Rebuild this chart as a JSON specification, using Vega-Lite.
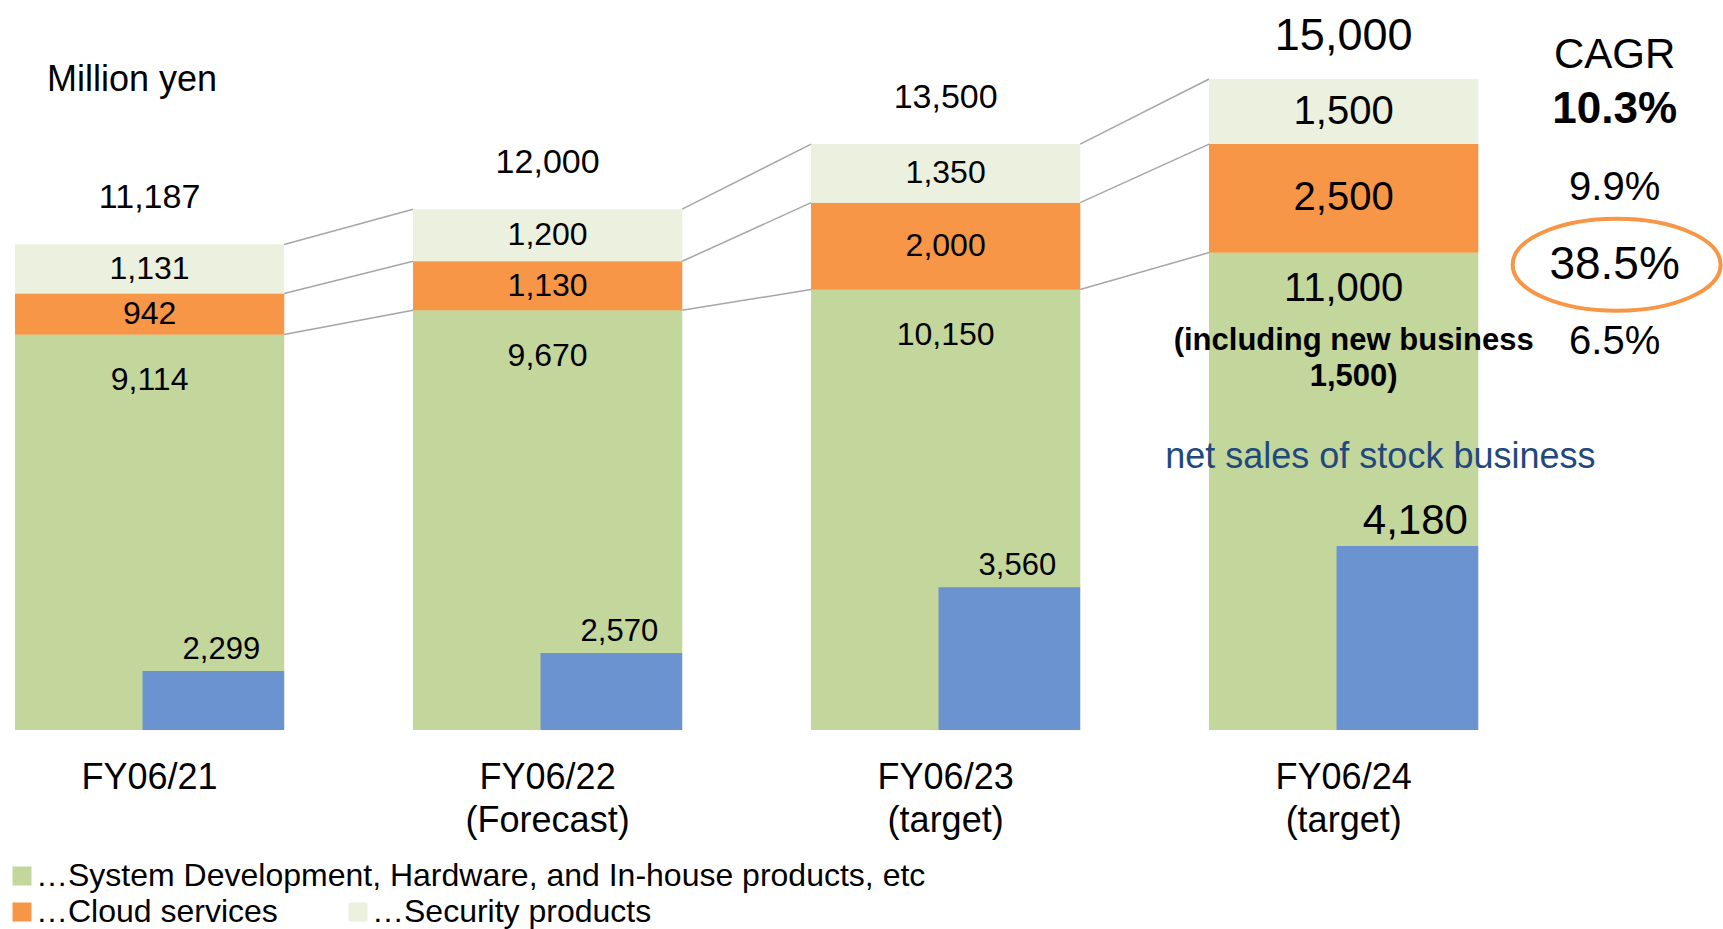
{
  "$schema": "https://vega.github.io/schema/vega-lite/v6.json",
  "width": 1723,
  "height": 730,
  "autosize": {"type": "none"},
  "padding": {"left": 0, "top": 0, "right": 0, "bottom": 199},
  "background": "white",
  "config": {"view": {"stroke": null}, "font": "Liberation Sans", "text": {"font": "Liberation Sans", "color": "black"}},
  "title": {"text": "Million yen", "anchor": "start", "frame": "group", "orient": "top", "offset": 0, "dx": 47, "dy": 116, "baseline": "middle", "fontSize": 36, "fontWeight": "normal", "font": "Liberation Sans", "color": "black"},
  "datasets": {
    "segments": [
      {"year": "FY06/21", "category": "System Development, Hardware, and In-house products, etc", "rank": 1, "value": 9114},
      {"year": "FY06/21", "category": "Cloud services", "rank": 2, "value": 942},
      {"year": "FY06/21", "category": "Security products", "rank": 3, "value": 1131},
      {"year": "FY06/22", "category": "System Development, Hardware, and In-house products, etc", "rank": 1, "value": 9670},
      {"year": "FY06/22", "category": "Cloud services", "rank": 2, "value": 1130},
      {"year": "FY06/22", "category": "Security products", "rank": 3, "value": 1200},
      {"year": "FY06/23", "category": "System Development, Hardware, and In-house products, etc", "rank": 1, "value": 10150},
      {"year": "FY06/23", "category": "Cloud services", "rank": 2, "value": 2000},
      {"year": "FY06/23", "category": "Security products", "rank": 3, "value": 1350},
      {"year": "FY06/24", "category": "System Development, Hardware, and In-house products, etc", "rank": 1, "value": 11000},
      {"year": "FY06/24", "category": "Cloud services", "rank": 2, "value": 2500},
      {"year": "FY06/24", "category": "Security products", "rank": 3, "value": 1500}
    ],
    "stock": [
      {"year": "FY06/21", "value": 2299},
      {"year": "FY06/22", "value": 2570},
      {"year": "FY06/23", "value": 3560},
      {"year": "FY06/24", "value": 4180}
    ],
    "cagr": [
      {"row": "header", "label": "CAGR"},
      {"row": "total", "label": "10.3%"},
      {"row": "security", "label": "9.9%"},
      {"row": "cloud", "label": "38.5%"},
      {"row": "system", "label": "6.5%"}
    ]
  },
  "encoding": {
    "x": {
      "field": "year", "type": "nominal",
      "sort": ["FY06/21", "FY06/22", "FY06/23", "FY06/24"],
      "scale": {"paddingInner": 0.324, "paddingOuter": 0.3265, "align": 0.058},
      "axis": {
        "title": null, "domain": false, "ticks": false, "grid": false,
        "labelFontSize": 36, "labelFont": "Liberation Sans", "labelColor": "black",
        "labelPadding": 30, "labelLineHeight": 43, "labelAngle": 0, "labelLimit": 400,
        "labelExpr": "datum.value == 'FY06/22' ? ['FY06/22', '(Forecast)'] : (datum.value == 'FY06/21' ? 'FY06/21' : [datum.value, '(target)'])"
      }
    }
  },
  "resolve": {"scale": {"y": "independent"}, "legend": {"color": "independent"}},
  "layer": [
    {
      "data": {"name": "segments"},
      "mark": {"type": "bar"},
      "encoding": {
        "y": {"field": "value", "type": "quantitative", "stack": "zero", "scale": {"domain": [0, 16820], "nice": false}, "axis": null},
        "color": {
          "field": "category", "type": "nominal",
          "scale": {"domain": ["System Development, Hardware, and In-house products, etc", "Cloud services", "Security products"], "range": ["#C3D69B", "#F79646", "#EBF1DE"]},
          "legend": {"orient": "none", "legendX": 6, "legendY": 896, "direction": "horizontal", "title": null, "values": ["Cloud services", "Security products"], "labelFontSize": 32, "labelFont": "Liberation Sans", "labelColor": "black", "labelExpr": "'…' + datum.label", "labelLimit": 2000, "symbolType": "square", "symbolSize": 361, "symbolStrokeWidth": 0, "labelOffset": -2, "columnPadding": 64, "padding": 0}
        },
        "order": {"field": "rank", "type": "quantitative"}
      }
    },
    {
      "data": {"name": "segments"},
      "layer": [
        {
          "transform": [
            {"stack": "value", "groupby": ["year"], "sort": [{"field": "rank", "order": "ascending"}], "as": ["s0", "s1"]},
            {"window": [{"op": "lead", "field": "s1", "as": "next_s1"}, {"op": "lead", "field": "year", "as": "next_year"}], "groupby": ["category"], "sort": [{"field": "year", "order": "ascending"}]},
            {"filter": "datum.next_year != null"}
          ],
          "mark": {"type": "rule", "color": "#A6A6A6", "strokeWidth": 1.5},
          "encoding": {
            "x": {
              "field": "year", "type": "nominal", "bandPosition": 1,
              "sort": ["FY06/21", "FY06/22", "FY06/23", "FY06/24"],
              "axis": {
                "title": null, "domain": false, "ticks": false, "grid": false,
                "labelFontSize": 36, "labelFont": "Liberation Sans", "labelColor": "black",
                "labelPadding": 30, "labelLineHeight": 43, "labelAngle": 0, "labelLimit": 400,
                "labelExpr": "datum.value == 'FY06/22' ? ['FY06/22', '(Forecast)'] : (datum.value == 'FY06/21' ? 'FY06/21' : [datum.value, '(target)'])"
              }
            },
            "x2": {"field": "next_year", "bandPosition": 0},
            "y": {"field": "s1", "type": "quantitative", "scale": {"domain": [0, 16820], "nice": false}, "axis": null},
            "y2": {"field": "next_s1"}
          }
        },
        {
          "mark": {"type": "bar"},
          "encoding": {
            "y": {"field": "value", "type": "quantitative", "stack": "zero", "axis": null},
            "color": {
              "field": "category", "type": "nominal",
              "scale": {"domain": ["System Development, Hardware, and In-house products, etc", "Cloud services", "Security products"], "range": ["#C3D69B", "#F79646", "#EBF1DE"]},
              "legend": {"orient": "none", "legendX": 6, "legendY": 860, "title": null, "values": ["System Development, Hardware, and In-house products, etc"], "labelFontSize": 32, "labelFont": "Liberation Sans", "labelColor": "black", "labelExpr": "'…' + datum.label", "labelLimit": 2000, "symbolType": "square", "symbolSize": 361, "symbolStrokeWidth": 0, "labelOffset": -2, "padding": 0}
            },
            "order": {"field": "rank", "type": "quantitative"}
          }
        },
        {
          "transform": [{"filter": "datum.year != 'FY06/24'"}],
          "mark": {"type": "text", "baseline": "alphabetic", "dy": -36, "fontSize": 34},
          "encoding": {
            "y": {"aggregate": "sum", "field": "value", "type": "quantitative"},
            "text": {"aggregate": "sum", "field": "value", "type": "quantitative", "format": ","}
          }
        },
        {
          "transform": [{"filter": "datum.year == 'FY06/24'"}],
          "mark": {"type": "text", "baseline": "alphabetic", "dy": -29, "fontSize": 45},
          "encoding": {
            "y": {"aggregate": "sum", "field": "value", "type": "quantitative"},
            "text": {"aggregate": "sum", "field": "value", "type": "quantitative", "format": ","}
          }
        },
        {
          "mark": {"type": "text", "baseline": "middle"},
          "encoding": {
            "y": {"field": "value", "type": "quantitative", "stack": "zero", "bandPosition": 0.5},
            "detail": {"field": "category"},
            "order": {"field": "rank", "type": "quantitative"},
            "text": {"field": "value", "type": "quantitative", "format": ",", "condition": {"test": "datum.rank == 1", "value": ""}},
            "size": {"condition": {"test": "datum.year == 'FY06/24'", "value": 40}, "value": 32}
          }
        },
        {
          "transform": [{"filter": "datum.rank == 1 && datum.year != 'FY06/24'"}],
          "mark": {"type": "text", "baseline": "middle", "dy": 46, "fontSize": 32},
          "encoding": {
            "y": {"field": "value", "type": "quantitative"},
            "text": {"field": "value", "type": "quantitative", "format": ","}
          }
        },
        {
          "transform": [{"filter": "datum.rank == 1 && datum.year == 'FY06/24'"}],
          "mark": {"type": "text", "baseline": "middle", "dy": 36, "fontSize": 40},
          "encoding": {
            "y": {"field": "value", "type": "quantitative"},
            "text": {"field": "value", "type": "quantitative", "format": ","}
          }
        },
        {
          "transform": [{"filter": "datum.rank == 1 && datum.year == 'FY06/24'"}],
          "mark": {"type": "text", "baseline": "middle", "dy": 88, "dx": 10, "font": "Liberation Sans", "fontWeight": "bold", "fontSize": 31, "lineHeight": 36},
          "encoding": {
            "y": {"field": "value", "type": "quantitative"},
            "text": {"value": ["(including new business", "1,500)"]}
          }
        }
      ]
    },
    {
      "data": {"name": "stock"},
      "layer": [
        {
          "mark": {"type": "bar", "color": "#6a93cf"},
          "encoding": {
            "xOffset": {"datum": "stock", "scale": {"domain": ["stock"], "paddingInner": 0, "paddingOuter": 0.45, "align": 1}},
            "y": {"field": "value", "type": "quantitative", "scale": {"domain": [1412, 12396], "nice": false, "zero": false}, "axis": null},
            "y2": {"datum": 1412}
          }
        },
        {
          "mark": {"type": "text", "baseline": "alphabetic", "dy": -12, "dx": 8},
          "encoding": {
            "xOffset": {"datum": "stock"},
            "y": {"field": "value", "type": "quantitative"},
            "text": {"field": "value", "type": "quantitative", "format": ","},
            "size": {"condition": {"test": "datum.year == 'FY06/24'", "value": 42}, "value": 31}
          }
        },
        {
          "transform": [{"filter": "datum.year == 'FY06/24'"}],
          "mark": {"type": "text", "baseline": "middle", "dy": -89, "dx": -27, "fontSize": 36, "color": "#1F497D"},
          "encoding": {
            "xOffset": {"datum": "stock"},
            "y": {"field": "value", "type": "quantitative"},
            "text": {"value": "net sales of stock business"}
          }
        }
      ]
    },
    {
      "data": {"name": "cagr"},
      "encoding": {
        "x": {
          "datum": "FY06/24", "type": "nominal",
          "axis": {
            "title": null, "domain": false, "ticks": false, "grid": false,
            "labelFontSize": 36, "labelFont": "Liberation Sans", "labelColor": "black",
            "labelPadding": 30, "labelLineHeight": 43, "labelAngle": 0, "labelLimit": 400,
            "labelExpr": "datum.value == 'FY06/22' ? ['FY06/22', '(Forecast)'] : (datum.value == 'FY06/21' ? 'FY06/21' : [datum.value, '(target)'])"
          }
        },
        "y": {"field": "row", "type": "nominal", "sort": null, "scale": {"type": "point", "domain": ["header", "total", "security", "cloud", "system"], "range": [33, 342], "padding": 0}, "axis": null}
      },
      "layer": [
        {
          "transform": [{"filter": "datum.row == 'header'"}],
          "mark": {"type": "text", "baseline": "middle", "dx": 271, "dy": 22, "fontSize": 42},
          "encoding": {"text": {"field": "label"}}
        },
        {
          "transform": [{"filter": "datum.row == 'total'"}],
          "mark": {"type": "text", "baseline": "middle", "dx": 271, "fontSize": 44, "fontWeight": "bold"},
          "encoding": {"text": {"field": "label"}}
        },
        {
          "transform": [{"filter": "datum.row == 'security' || datum.row == 'system'"}],
          "mark": {"type": "text", "baseline": "middle", "dx": 271, "fontSize": 40},
          "encoding": {"text": {"field": "label"}}
        },
        {
          "transform": [{"filter": "datum.row == 'cloud'"}],
          "mark": {"type": "text", "baseline": "middle", "dx": 271, "fontSize": 46},
          "encoding": {"text": {"field": "label"}}
        },
        {
          "transform": [{"filter": "datum.row == 'cloud'"}],
          "mark": {"type": "point", "shape": "M -1 0 C -1 -0.244 -0.552 -0.442 0 -0.442 C 0.552 -0.442 1 -0.244 1 0 C 1 0.244 0.552 0.442 0 0.442 C -0.552 0.442 -1 0.244 -1 0 Z", "size": 43264, "filled": false, "stroke": "#F79646", "strokeWidth": 4, "opacity": 1, "xOffset": 273}
        }
      ]
    }
  ]
}
